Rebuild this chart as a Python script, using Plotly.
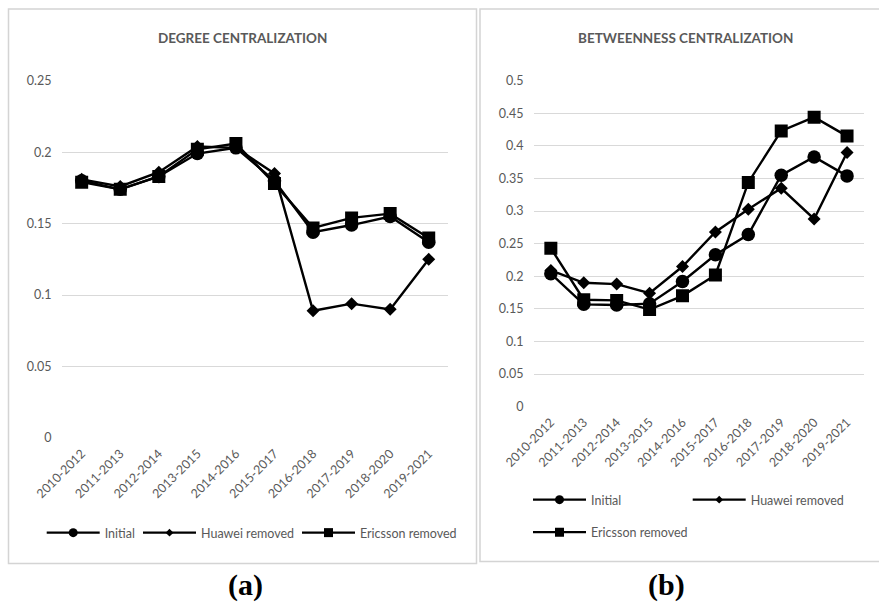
import plotly.graph_objects as go

# ---- data -------------------------------------------------------------
periods = ["2010-2012", "2011-2013", "2012-2014", "2013-2015", "2014-2016",
           "2015-2017", "2016-2018", "2017-2019", "2018-2020", "2019-2021"]

series_names = ["Initial", "Huawei removed", "Ericsson removed"]

degree_initial = [0.180, 0.174, 0.183, 0.199, 0.203, 0.180, 0.144, 0.149, 0.155, 0.137]
degree_huawei = [0.181, 0.176, 0.186, 0.204, 0.203, 0.185, 0.089, 0.094, 0.090, 0.125]
degree_ericsson = [0.179, 0.174, 0.183, 0.202, 0.206, 0.178, 0.147, 0.154, 0.157, 0.140]

betw_initial = [0.204, 0.157, 0.156, 0.158, 0.192, 0.233, 0.264, 0.355, 0.383, 0.354]
betw_huawei = [0.209, 0.190, 0.188, 0.174, 0.215, 0.268, 0.303, 0.335, 0.288, 0.390]
betw_ericsson = [0.243, 0.164, 0.163, 0.149, 0.170, 0.202, 0.344, 0.423, 0.444, 0.415]

degree_ticks = [0, 0.05, 0.10, 0.15, 0.20, 0.25]
betw_ticks = [0, 0.05, 0.10, 0.15, 0.20, 0.25, 0.30, 0.35, 0.40, 0.45, 0.50]

# ---- page geometry helpers (pixels -> paper fractions) ------------------
W, H = 879, 604


def fx(px):
    return px / W


def fy(py):
    return 1 - py / H


TEXT_GREY = "#595959"
GRID = "#d9d9d9"
FONT = "Lato, 'Open Sans', sans-serif"
symbols = ["circle", "diamond", "square"]
mark_sizes = [13.5, 10, 13]
legend_sizes = [9, 6, 9]

fig = go.Figure()

# ---- data traces ---------------------------------------------------------
for vals, sym, ms in zip([degree_initial, degree_huawei, degree_ericsson], symbols, mark_sizes):
    fig.add_trace(go.Scatter(
        x=periods, y=vals, mode="lines+markers", xaxis="x", yaxis="y",
        line=dict(color="black", width=2.4),
        marker=dict(symbol=sym, size=ms, color="black"),
        showlegend=False, hoverinfo="skip"))

for vals, sym, ms in zip([betw_initial, betw_huawei, betw_ericsson], symbols, mark_sizes):
    fig.add_trace(go.Scatter(
        x=periods, y=vals, mode="lines+markers", xaxis="x2", yaxis="y2",
        line=dict(color="black", width=2.4),
        marker=dict(symbol=sym, size=ms, color="black"),
        showlegend=False, hoverinfo="skip"))

# ---- legend entries (one legend per entry for exact placement) ----------
legend_slots = [
    ("legend", 41.7, 533), ("legend2", 138, 533), ("legend3", 297, 533),
    ("legend4", 528, 500), ("legend5", 687.7, 500), ("legend6", 528, 532.5),
]
legend_layout = {}
for i, (key, lx, ly) in enumerate(legend_slots):
    s = i % 3
    fig.add_trace(go.Scatter(
        x=[None], y=[None], mode="lines+markers", name=series_names[s],
        xaxis="x" if i < 3 else "x2", yaxis="y" if i < 3 else "y2",
        line=dict(color="black", width=2.4),
        marker=dict(symbol=symbols[s], size=legend_sizes[s], color="black"),
        legend=key, showlegend=True))
    legend_layout[key] = dict(
        x=fx(lx), y=fy(ly), xanchor="left", yanchor="middle",
        orientation="h", itemwidth=53, bgcolor="rgba(0,0,0,0)",
        borderwidth=0, font=dict(family=FONT, size=12.5, color=TEXT_GREY),
        itemclick=False, itemdoubleclick=False)

# ---- axes -----------------------------------------------------------------
xaxis_common = dict(
    type="category", range=[-0.5, 9.5], showgrid=False, zeroline=False,
    showline=False, ticks="", tickangle=-45, fixedrange=True, automargin=False,
    ticklabelstandoff=5,
    tickfont=dict(family=FONT, size=12.5, color=TEXT_GREY))
yaxis_common = dict(
    showgrid=True, gridcolor=GRID, gridwidth=1.3, zeroline=False,
    showline=False, ticks="", ticklabelstandoff=10, fixedrange=True,
    automargin=False,
    tickfont=dict(family=FONT, size=12.5, color=TEXT_GREY))

fig.update_layout(
    template="none",
    width=W, height=H, autosize=False,
    margin=dict(l=0, r=0, t=0, b=0, pad=0),
    paper_bgcolor="white", plot_bgcolor="white",
    xaxis=dict(domain=[fx(62.4), fx(448)], anchor="y", **xaxis_common),
    yaxis=dict(domain=[fy(438), fy(80.7)], anchor="x", range=[0, 0.25],
               tickvals=degree_ticks, **yaxis_common),
    xaxis2=dict(domain=[fx(534.4), fx(863.5)], anchor="y2", **xaxis_common),
    yaxis2=dict(domain=[fy(406.7), fy(80.7)], anchor="x2", range=[0, 0.5],
                tickvals=betw_ticks, **yaxis_common),
    **legend_layout,
)

# ---- panel frames --------------------------------------------------------
for x0, y0, x1, y1 in [(8.5, 9, 476.5, 563.5), (480, 9, 882, 561.5)]:
    fig.add_shape(type="rect", xref="paper", yref="paper",
                  x0=fx(x0), x1=fx(x1), y0=fy(y1), y1=fy(y0),
                  line=dict(color="#d4d4d4", width=1.5), fillcolor="rgba(0,0,0,0)",
                  layer="below")

# ---- titles and panel labels ---------------------------------------------
for text, cx in [("DEGREE CENTRALIZATION", 242), ("BETWEENNESS CENTRALIZATION", 685)]:
    fig.add_annotation(text=f"<b>{text}</b>", xref="paper", yref="paper",
                       x=fx(cx), y=fy(38), xanchor="center", yanchor="middle",
                       showarrow=False,
                       font=dict(family=FONT, size=13.5, color=TEXT_GREY))

for text, cx in [("(a)", 245), ("(b)", 666.7)]:
    fig.add_annotation(text=f"<b>{text}</b>", xref="paper", yref="paper",
                       x=fx(cx), y=fy(604), xanchor="center", yanchor="bottom",
                       showarrow=False,
                       font=dict(family="'Liberation Serif', 'Times New Roman', serif",
                                 size=30, color="black"))

fig.write_html("out.html")
